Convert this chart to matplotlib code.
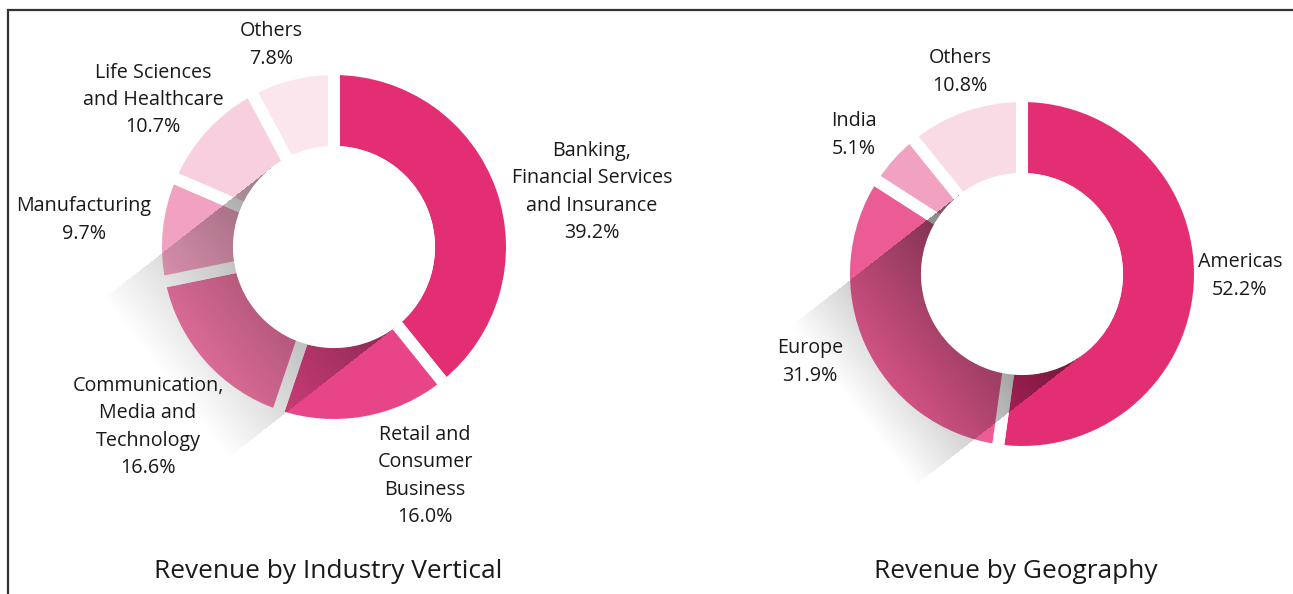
import numpy as np
import matplotlib
matplotlib.use("Agg")
import matplotlib.pyplot as plt
from matplotlib.patches import Circle

# ---------- data ----------
industry_names = ["Banking,\nFinancial Services\nand Insurance", "Retail and\nConsumer\nBusiness",
                  "Communication,\nMedia and\nTechnology", "Manufacturing",
                  "Life Sciences\nand Healthcare", "Others"]
industry_share = [39.2, 16.0, 16.6, 9.7, 10.7, 7.8]
industry_colors = ["#E42E74", "#E84588", "#EC74A2", "#F2A2C1", "#F8CFDF", "#FCE6EE"]

geo_names = ["Americas", "Europe", "India", "Others"]
geo_share = [52.2, 31.9, 5.1, 10.8]
geo_colors = ["#E42E74", "#EA5C93", "#F2A2C1", "#F9DBE6"]

# ---------- layout (pixel coords, y up) ----------
W, H = 1293, 594
R_OUT, R_IN, GAP = 172, 101, 12
industry_center = (334, H - 247)
geo_center = (1022, H - 274)
industry_label_xy = [(592, H - 192), (425, H - 476), (148, H - 427),
                     (84, H - 220), (153, H - 100), (271, H - 45)]
geo_label_xy = [(1240, H - 276), (810, H - 362), (854, H - 135), (960, H - 72)]

FONT = "Open Sans"
plt.rcParams["font.family"] = [FONT, "DejaVu Sans"]

fig = plt.figure(figsize=(W / 100, H / 100), dpi=100)
ax = fig.add_axes([0, 0, 1, 1])
lw_pt = GAP * 72 / 100


def shadow(center, alpha0, length, ang=218):
    # long diagonal shadow cast by the donut hole, fading away from it
    cx, cy = center
    d = np.array([np.cos(np.radians(ang)), np.sin(np.radians(ang))])
    n = np.array([-d[1], d[0]])
    x0, x1 = cx - 320, cx + 160
    y0, y1 = cy - 320, cy + 160
    xs = np.arange(x0, x1) + 0.5
    ys = np.arange(y0, y1) + 0.5
    X, Y = np.meshgrid(xs, ys)
    vx, vy = X - cx, Y - cy
    t = vx * d[0] + vy * d[1]
    s = vx * n[0] + vy * n[1]
    a = alpha0 * np.clip(1 - t / length, 0, 1)
    a[(np.abs(s) > R_IN) | (t < 0)] = 0
    img = np.zeros(X.shape + (4,))
    img[..., 3] = a
    ax.imshow(img, extent=(x0, x1, y0, y1), origin="lower", zorder=3,
              interpolation="bilinear")


def donut(share, colors, names, center, label_xy, title, a0, length):
    ax.pie(share, colors=colors, startangle=90, counterclock=False, center=center,
           radius=R_OUT + GAP / 2, wedgeprops=dict(width=R_OUT - R_IN + GAP,
                                                   edgecolor="white", linewidth=lw_pt),
           normalize=True)
    shadow(center, a0, length)
    ax.add_patch(Circle(center, R_IN, facecolor="white", edgecolor="none", zorder=4))
    for name, v, (x, y) in zip(names, share, label_xy):
        ax.text(x, y, f"{name}\n{v:.1f}%", ha="center", va="center", fontsize=14.2,
                color="#1a1a1a", linespacing=1.5, zorder=5)
    ax.text(center[0] - 6, H - 572, title, ha="center", va="center", fontsize=18.9,
            color="#1a1a1a", zorder=5)


donut(industry_share, industry_colors, industry_names, industry_center,
      industry_label_xy, "Revenue by Industry Vertical", 0.40, 215)
donut(geo_share, geo_colors, geo_names, geo_center,
      geo_label_xy, "Revenue by Geography", 0.53, 215)

# frame lines on the left and top
ax.plot([7.5, 7.5, W], [0, H - 9.5, H - 9.5], color="#333333", lw=1.6, zorder=6,
        solid_joinstyle="miter")

ax.set_xlim(0, W)
ax.set_ylim(0, H)
ax.set_aspect("auto")
ax.axis("off")
fig.savefig("out.png", dpi=100)
